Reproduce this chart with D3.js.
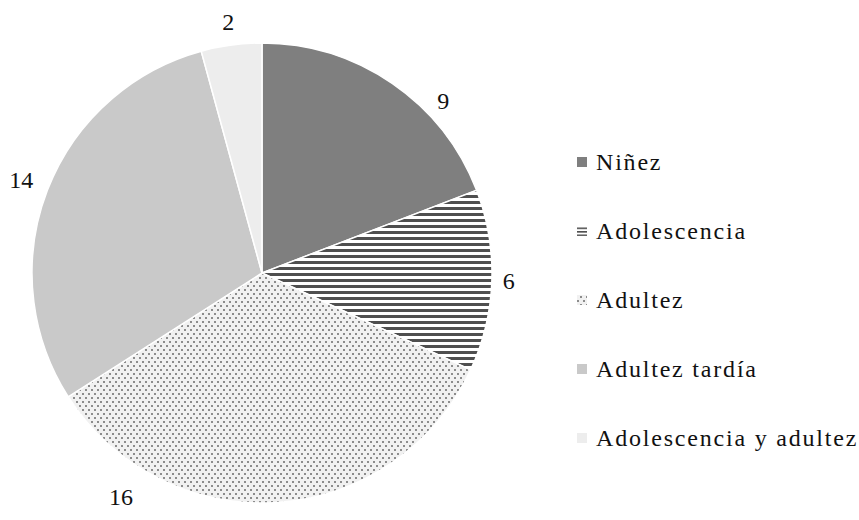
<!DOCTYPE html>
<html>
<head>
<meta charset="utf-8">
<script src="https://cdn.jsdelivr.net/npm/d3@7/dist/d3.min.js"></script>
<style>
  html, body { margin: 0; padding: 0; background: #fff; }
  svg { display: block; }
</style>
</head>
<body>
<svg id="chart" width="859" height="520"></svg>
<script>
// Age groups and counts
const categories = ["Niñez", "Adolescencia", "Adultez", "Adultez tardía", "Adolescencia y adultez"];
const counts = [9, 6, 16, 14, 2];

const fontStack = "'Liberation Serif', 'Times New Roman', serif";

const svg = d3.select("#chart").style("font-family", fontStack);
const cx = 262, cy = 273, radius = 230;

// Fill patterns
const defs = svg.append("defs");

const stripes = defs.append("pattern")
  .attr("id", "stripes")
  .attr("patternUnits", "userSpaceOnUse")
  .attr("width", 8).attr("height", 6);
stripes.append("rect").attr("width", 8).attr("height", 6).attr("fill", "#ffffff");
stripes.append("rect").attr("y", 0).attr("width", 8).attr("height", 3).attr("fill", "#4f4f4f");

const dots = defs.append("pattern")
  .attr("id", "dots")
  .attr("patternUnits", "userSpaceOnUse")
  .attr("width", 6).attr("height", 8);
dots.append("rect").attr("width", 6).attr("height", 8).attr("fill", "#f1f1f1");
dots.append("rect").attr("x", 0).attr("y", 0).attr("width", 2).attr("height", 2).attr("fill", "#8c8c8c");
dots.append("rect").attr("x", 3).attr("y", 4).attr("width", 2).attr("height", 2).attr("fill", "#8c8c8c");

// Small legend swatch for the striped slice: three bars
const stripesKey = defs.append("pattern")
  .attr("id", "stripesKey")
  .attr("patternUnits", "userSpaceOnUse")
  .attr("width", 10).attr("height", 3.5);
stripesKey.append("rect").attr("width", 10).attr("height", 3.5).attr("fill", "#ffffff");
stripesKey.append("rect").attr("width", 10).attr("height", 1.6).attr("fill", "#4f4f4f");

const fills = ["#7f7f7f", "url(#stripes)", "url(#dots)", "#c9c9c9", "#ededed"];
const keyFills = ["#7f7f7f", "url(#stripesKey)", "url(#dots)", "#c9c9c9", "#ededed"];
const color = d3.scaleOrdinal().domain(categories).range(fills);
const keyColor = d3.scaleOrdinal().domain(categories).range(keyFills);

const pie = d3.pie().sort(null).value(d => d.value);
const data = pie(categories.map((c, i) => ({ name: c, value: counts[i] })));

const arc = d3.arc().innerRadius(0).outerRadius(radius);

const g = svg.append("g").attr("transform", `translate(${cx},${cy})`);

g.selectAll("path.slice")
  .data(data)
  .join("path")
  .attr("class", "slice")
  .attr("d", arc)
  .attr("fill", d => color(d.data.name))
  .attr("stroke", "#ffffff")
  .attr("stroke-width", 1.5);

// Value labels outside the pie; a couple are nudged round the rim
const labelShift = [12, 0, 36, 0, 0];   // degrees
const labelRadius = [250, 247, 265, 258, 253];
g.selectAll("text.value")
  .data(data)
  .join("text")
  .attr("class", "value")
  .attr("x", (d, i) => {
    const a = (d.startAngle + d.endAngle) / 2 + labelShift[i] * Math.PI / 180;
    return Math.sin(a) * labelRadius[i];
  })
  .attr("y", (d, i) => {
    const a = (d.startAngle + d.endAngle) / 2 + labelShift[i] * Math.PI / 180;
    return -Math.cos(a) * labelRadius[i];
  })
  .attr("text-anchor", "middle")
  .attr("dominant-baseline", "central")
  .attr("font-size", 24)
  .attr("fill", "#111")
  .text(d => d.data.value);

// Legend
const legendY = d3.scalePoint().domain(categories).range([162, 438]);
const items = svg.append("g")
  .selectAll("g.item")
  .data(categories)
  .join("g")
  .attr("class", "item")
  .attr("transform", d => `translate(577,${legendY(d)})`);

items.append("rect")
  .attr("x", 0).attr("y", -5)
  .attr("width", 10).attr("height", 10)
  .attr("fill", d => keyColor(d));

items.append("text")
  .attr("x", 19)
  .attr("y", 0)
  .attr("dominant-baseline", "central")
  .attr("font-size", 24)
  .attr("letter-spacing", 1.8)
  .attr("fill", "#111")
  .text(d => d);
</script>
</body>
</html>
